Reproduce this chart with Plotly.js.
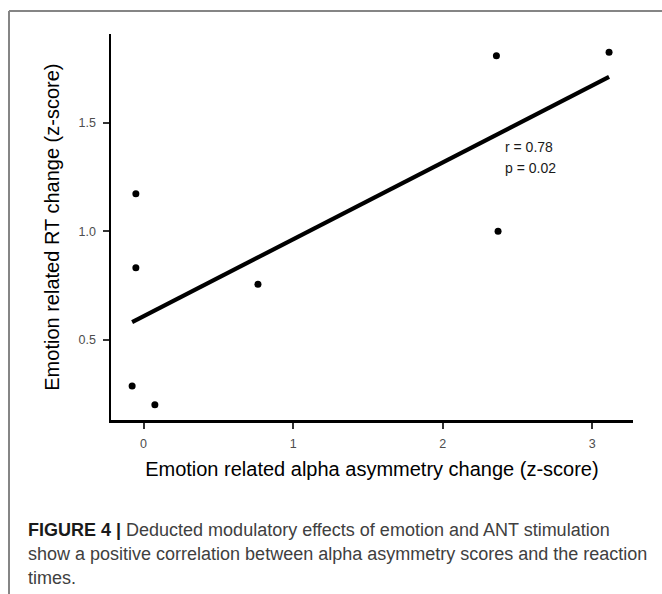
<!DOCTYPE html>
<html>
<head>
<meta charset="utf-8">
<script src="https://cdn.plot.ly/plotly-3.0.1.min.js"></script>
<style>
  html, body { margin: 0; padding: 0; background: #ffffff; }
  #chart { width: 662px; height: 594px; }
</style>
</head>
<body>
<div id="chart"></div>
<script>
// ---- data ----
const alphaChange = [-0.051, -0.051, -0.076, 0.076, 0.765, 2.359, 2.370, 3.112];
const rtChange    = [ 1.173,  0.833,  0.288, 0.202, 0.756, 1.808, 1.000, 1.824];
const xTickVals   = [0, 1, 2, 3];
const xTickText   = ['0', '1', '2', '3'];
const yTickVals   = [0.5, 1.0, 1.5];
const yTickText   = ['0.5', '1.0', '1.5'];
const statLines   = ['r = 0.78', 'p = 0.02'];
const xTitle      = 'Emotion related alpha asymmetry change (z-score)';
const yTitle      = 'Emotion related RT change (z-score)';
const captionLines = [
  '<b style="color:#1a1a1a">FIGURE 4 |</b> Deducted modulatory effects of emotion and ANT stimulation',
  'show a positive correlation between alpha asymmetry scores and the reaction',
  'times.'
];

// ---- least-squares fit line from the data ----
const n = alphaChange.length;
const mx = alphaChange.reduce((a, b) => a + b, 0) / n;
const my = rtChange.reduce((a, b) => a + b, 0) / n;
let sxy = 0, sxx = 0;
for (let i = 0; i < n; i++) {
  sxy += (alphaChange[i] - mx) * (rtChange[i] - my);
  sxx += (alphaChange[i] - mx) ** 2;
}
const slope = sxy / sxx;
const intercept = my - slope * mx;
const fitX = [Math.min(...alphaChange), Math.max(...alphaChange)];
const fitY = fitX.map(v => intercept + slope * v);

const FONT = 'Liberation Sans, Arial, Helvetica, sans-serif';
const W = 662, H = 594;

const traces = [
  {
    x: fitX, y: fitY, type: 'scatter', mode: 'lines',
    line: { color: '#000000', width: 4.2 },
    hoverinfo: 'skip', showlegend: false
  },
  {
    x: alphaChange, y: rtChange, type: 'scatter', mode: 'markers',
    marker: { color: '#000000', size: 7 },
    showlegend: false
  }
];

const annotations = [
  { x: 2.40, y: 1.3886, xref: 'x', yref: 'y', text: statLines[0], showarrow: false,
    xanchor: 'left', yanchor: 'middle', font: { family: FONT, size: 14, color: '#1a1a1a' } },
  { x: 2.40, y: 1.2925, xref: 'x', yref: 'y', text: statLines[1], showarrow: false,
    xanchor: 'left', yanchor: 'middle', font: { family: FONT, size: 14, color: '#1a1a1a' } }
];
const capY = [529.5, 553.6, 577.5];
captionLines.forEach((t, i) => {
  annotations.push({
    x: 25.5 / W, y: 1 - capY[i] / H, xref: 'paper', yref: 'paper', text: t,
    showarrow: false, xanchor: 'left', yanchor: 'middle',
    font: { family: FONT, size: 18, color: '#404040' }
  });
});

const layout = {
  width: W, height: H,
  margin: { l: 0, r: 0, t: 0, b: 0, pad: 0 },
  paper_bgcolor: '#ffffff', plot_bgcolor: '#ffffff',
  showlegend: false,
  xaxis: {
    domain: [110.8 / W, 633 / W],
    range: [-0.2186, 3.272],
    tickmode: 'array', tickvals: xTickVals, ticktext: xTickText,
    showgrid: false, zeroline: false,
    showline: true, linecolor: '#000000', linewidth: 2.3,
    ticks: 'outside', ticklen: 6, tickwidth: 2, tickcolor: '#333333',
    ticklabelstandoff: 4,
    tickfont: { family: FONT, size: 12.5, color: '#4d4d4d' },
    title: { text: xTitle, standoff: 13, font: { family: FONT, size: 20, color: '#000000' } },
    automargin: false
  },
  yaxis: {
    domain: [1 - 420.3 / H, 1 - 34 / H],
    range: [0.1305, 1.908],
    tickmode: 'array', tickvals: yTickVals, ticktext: yTickText,
    showgrid: false, zeroline: false,
    showline: true, linecolor: '#000000', linewidth: 2.3,
    ticks: 'outside', ticklen: 6, tickwidth: 2, tickcolor: '#333333',
    ticklabelstandoff: 4,
    tickfont: { family: FONT, size: 12.5, color: '#4d4d4d' },
    title: { text: yTitle, font: { family: FONT, size: 20, color: '#000000' } },
    automargin: false
  },
  shapes: [
    { type: 'line', xref: 'paper', yref: 'paper', x0: 9 / W, x1: 1, y0: 1 - 11 / H, y1: 1 - 11 / H,
      line: { color: '#858585', width: 2 } },
    { type: 'line', xref: 'paper', yref: 'paper', x0: 9 / W, x1: 9 / W, y0: 1 - 11 / H, y1: 0,
      line: { color: '#858585', width: 2 } }
  ],
  annotations: annotations
};

Plotly.newPlot('chart', traces, layout, { displayModeBar: false, staticPlot: true });
</script>
</body>
</html>
